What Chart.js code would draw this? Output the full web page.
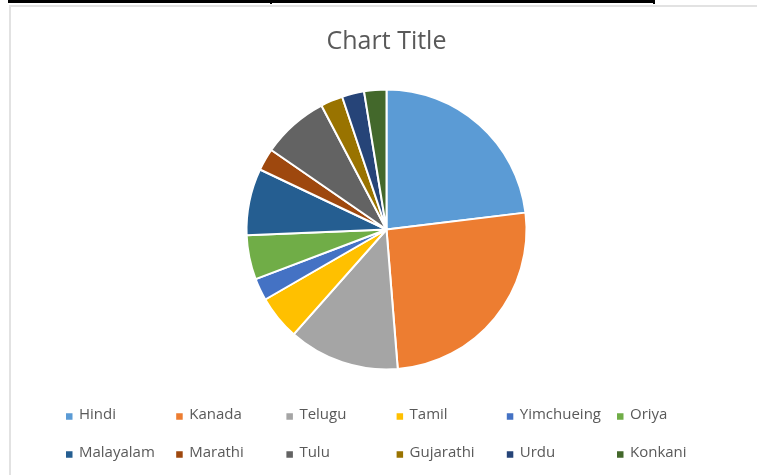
<!DOCTYPE html>
<html>
<head>
<meta charset="utf-8">
<script src="https://cdn.jsdelivr.net/npm/chart.js@4/dist/chart.umd.min.js"></script>
<style>
  html, body { margin: 0; padding: 0; background: #ffffff; }
  body { width: 757px; height: 475px; position: relative; overflow: hidden; }
  #cellTop { position: absolute; left: 8px; top: 0; width: 647px; height: 3px; background: #000; }
  #cellDiv1 { position: absolute; left: 270px; top: 0; width: 2px; height: 4px; background: #000; }
  #cellDiv2 { position: absolute; left: 653px; top: 0; width: 2px; height: 4px; background: #000; }
  #frame { position: absolute; left: 9px; top: 5px; width: 760px; height: 480px;
           border-left: 2px solid #e2e2e2; border-top: 2px solid #e2e2e2; box-sizing: border-box; }
  #wrap { position: absolute; left: 9px; top: 5px; width: 748px; height: 470px; }
</style>
</head>
<body>
<div id="cellTop"></div>
<div id="cellDiv1"></div>
<div id="cellDiv2"></div>
<div id="frame"></div>
<div id="wrap"><canvas id="c" width="748" height="470"></canvas></div>
<script>
const categories = ['Hindi', 'Kanada', 'Telugu', 'Tamil', 'Yimchueing', 'Oriya',
                    'Malayalam', 'Marathi', 'Tulu', 'Gujarathi', 'Urdu', 'Konkani'];
const values = [9, 10, 5, 2, 1, 2, 3, 1, 3, 1, 1, 1];
const colors = ['#5B9BD5', '#ED7D31', '#A5A5A5', '#FFC000', '#4472C4', '#70AD47',
                '#255E91', '#9E480E', '#636363', '#997300', '#264478', '#43682B'];
const chartTitle = 'Chart Title';

const FONT = '"Open Sans", "Liberation Sans", sans-serif';

const gridLegend = {
  id: 'gridLegend',
  afterDraw(chart) {
    const ctx = chart.ctx;
    const ds = chart.data.datasets[0];
    const cols = 6, colW = 110.2, x0 = 57, rowY = [410, 448], box = 6.5;
    ctx.save();
    ctx.font = '15px ' + FONT;
    ctx.textBaseline = 'middle';
    ctx.textAlign = 'left';
    chart.data.labels.forEach((lab, i) => {
      const r = Math.floor(i / cols), c = i % cols;
      const x = x0 + c * colW, y = rowY[r];
      ctx.fillStyle = ds.backgroundColor[i];
      ctx.fillRect(x, y - box / 2 + 1.5, box, box);
      ctx.fillStyle = '#595959';
      ctx.fillText(lab, x + 13, y);
    });
    ctx.restore();
  }
};

new Chart(document.getElementById('c'), {
  type: 'pie',
  data: {
    labels: categories,
    datasets: [{
      data: values,
      backgroundColor: colors,
      borderColor: '#ffffff',
      borderWidth: 2,
      radius: 140
    }]
  },
  options: {
    responsive: false,
    animation: false,
    layout: { padding: { left: 7, right: 0, top: 0, bottom: 82.5 } },
    plugins: {
      legend: { display: false },
      tooltip: { enabled: false },
      title: {
        display: true,
        text: chartTitle,
        color: '#595959',
        font: { family: FONT, size: 25, weight: 'normal' },
        padding: { top: 21.5, bottom: 10 }
      }
    }
  },
  plugins: [gridLegend]
});
</script>
</body>
</html>
